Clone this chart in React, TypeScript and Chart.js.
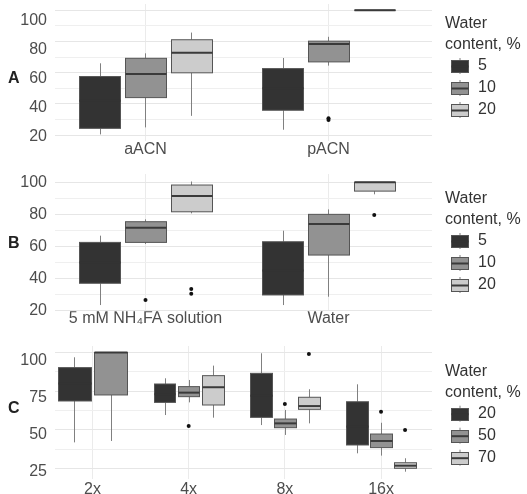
import React, { useEffect, useRef } from 'react';
import { Chart, registerables } from 'chart.js';

Chart.register(...registerables);

const FONT = "'Liberation Sans', Arial, Helvetica, sans-serif";

// ---------- Panel A ----------
const catsA = ['aACN', 'pACN'];
const groupsA = ['5', '10', '20'];
// each entry: [lower whisker, Q1, median, Q3, upper whisker] per category
const statsA5 = [[20.4, 24.3, 42, 57.5, 66], [23.4, 35.9, 50, 62.6, 69.4]];
const statsA10 = [[24.9, 44, 59.2, 69.2, 72.4], [64.5, 66.9, 78.3, 80.2, 83]];
const statsA20 = [[32.3, 59.9, 72.8, 81.1, 85.7], [100, 100, 100, 100, 100]];
const outA5: number[][] = [[], []];
const outA10: number[][] = [[], [29.7, 30.7]];
const outA20: number[][] = [[], []];
const gridTicksA = [20, 30, 40, 50, 60, 70, 80, 90, 100];
const labelTicksA = [20, 40, 60, 80, 100];

// ---------- Panel B ----------
const catsB = ['5 mM NH\u2084FA solution', 'Water'];
const groupsB = ['5', '10', '20'];
const statsB5 = [[23.4, 37, 50, 62.5, 66.7], [23.4, 29.7, 45, 62.9, 69.8]];
const statsB10 = [[61.5, 62.5, 71.7, 75.4, 76.9], [28.6, 54.6, 74, 80, 83.1]];
const statsB20 = [[80.6, 81.6, 91.4, 98.3, 100.5], [92.5, 94.5, 100, 100, 100]];
const outB5: number[][] = [[], []];
const outB10: number[][] = [[26.5], []];
const outB20: number[][] = [[33.4, 30.5], [79.6]];
const gridTicksB = [20, 30, 40, 50, 60, 70, 80, 90, 100];
const labelTicksB = [20, 40, 60, 80, 100];

// ---------- Panel C ----------
const catsC = ['2x', '4x', '8x', '16x'];
const groupsC = ['20', '50', '70'];
const statsC20 = [[41.8, 68.6, 80, 90.2, 96.9], [59.5, 67.7, 73, 79.6, 83.3], [53, 58, 72, 86.5, 99.5], [34.7, 40.1, 52, 68.1, 79.4]];
const statsC50 = [[42.7, 72.5, 100, 100, 100], [67.7, 71.4, 74, 77.9, 82.2], [46.6, 51.3, 54.1, 56.9, 62.8], [33.2, 38.4, 42.7, 47.2, 54.5]];
const statsC70 = [null, [57.8, 66, 77.5, 85, 91.5], [54.1, 63.2, 65.3, 71, 76.2], [22.8, 25, 26.7, 28.6, 31.5]];
const outC20: number[][] = [[], [], [], []];
const outC50: number[][] = [[], [52.4], [66.6], [61.7]];
const outC70: number[][] = [[], [], [99], [49.8]];
const gridTicksC = [25, 37.5, 50, 62.5, 75, 87.5, 100];
const labelTicksC = [25, 50, 75, 100];

const FILLS = ['#333333', '#929292', '#cccccc'];
const MEDIANS = ['#333333', '#3a3a3a', '#3a3a3a'];

type Stat = number[] | null;

interface PanelProps {
  tag: string;
  cats: string[];
  groups: string[];
  stats: Stat[][];
  outliers: number[][][];
  gridTicks: number[];
  labelTicks: number[];
  height: number;
  top: number;
  bottom: number;
  yRange: [number, number];
  labelRange: [number, number];
  xRange: [number, number];
  xPad: number;
  legendTop: number;
}

function dodge(stats: Stat[][], ci: number) {
  const present: number[] = [];
  stats.forEach((s, gi) => { if (s[ci]) present.push(gi); });
  const n = present.length;
  const slot = 0.75 / n;
  return present.map((g, k) => ({ g, center: ci + (k - (n - 1) / 2) * slot, width: 0.9 * slot }));
}

function Panel(p: PanelProps) {
  const ref = useRef<HTMLCanvasElement | null>(null);
  useEffect(() => {
    if (!ref.current) return;
    const points: { x: number; y: number }[] = [];
    p.cats.forEach((_, ci) => {
      dodge(p.stats, ci).forEach(({ g, center }) => {
        (p.outliers[g][ci] || []).forEach((v) => points.push({ x: center, y: v }));
      });
    });

    const boxPlugin = {
      id: 'boxes',
      beforeDatasetsDraw(chart: any) {
        const ctx = chart.ctx as CanvasRenderingContext2D;
        const xs = chart.scales.x;
        const ys = chart.scales.y;
        ctx.save();
        p.cats.forEach((_, ci) => {
          dodge(p.stats, ci).forEach(({ g, center, width }) => {
            const s = p.stats[g][ci] as number[];
            const [lo, q1, med, q3, hi] = s;
            const cx = Math.round(xs.getPixelForValue(center)) + 0.5;
            const l = Math.round(xs.getPixelForValue(center - width / 2)) + 0.5;
            const r = Math.round(xs.getPixelForValue(center + width / 2)) + 0.5;
            const yq1 = ys.getPixelForValue(q1);
            const yq3 = ys.getPixelForValue(q3);
            // whiskers
            ctx.strokeStyle = '#808080';
            ctx.lineWidth = 1;
            ctx.beginPath();
            ctx.moveTo(cx, ys.getPixelForValue(hi));
            ctx.lineTo(cx, yq3);
            ctx.moveTo(cx, yq1);
            ctx.lineTo(cx, ys.getPixelForValue(lo));
            ctx.stroke();
            // box
            ctx.fillStyle = FILLS[g];
            ctx.fillRect(l, yq3, r - l, yq1 - yq3);
            ctx.strokeStyle = '#555555';
            ctx.strokeRect(l, yq3, r - l, yq1 - yq3);
            // median
            ctx.strokeStyle = MEDIANS[g];
            ctx.lineWidth = 2;
            ctx.beginPath();
            const ym = ys.getPixelForValue(med);
            ctx.moveTo(l, ym);
            ctx.lineTo(r, ym);
            ctx.stroke();
          });
        });
        ctx.restore();
      },
      afterDraw(chart: any) {
        const ctx = chart.ctx as CanvasRenderingContext2D;
        ctx.save();
        // panel tag
        ctx.fillStyle = '#222222';
        ctx.font = `bold 16px ${FONT}`;
        ctx.textBaseline = 'middle';
        ctx.textAlign = 'left';
        ctx.fillText(p.tag, 8, 79);
        // legend
        ctx.font = `16px ${FONT}`;
        ctx.fillStyle = '#333333';
        const lt = p.legendTop;
        ctx.fillText('Water', 445, lt);
        ctx.fillText('content, %', 445, lt + 20.5);
        p.groups.forEach((gName, gi) => {
          const cy = lt + 42 + gi * 22;
          const kx = 451.5;
          const kw = 17;
          const kc = kx + kw / 2;
          ctx.strokeStyle = '#808080';
          ctx.lineWidth = 1;
          ctx.beginPath();
          ctx.moveTo(kc, cy - 8);
          ctx.lineTo(kc, cy + 8);
          ctx.stroke();
          ctx.fillStyle = FILLS[gi];
          ctx.fillRect(kx, Math.round(cy - 6) + 0.5, kw, 12);
          ctx.strokeStyle = '#555555';
          ctx.strokeRect(kx, Math.round(cy - 6) + 0.5, kw, 12);
          ctx.strokeStyle = MEDIANS[gi];
          ctx.lineWidth = 2;
          ctx.beginPath();
          ctx.moveTo(kx, cy + 0.5);
          ctx.lineTo(kx + kw, cy + 0.5);
          ctx.stroke();
          ctx.fillStyle = '#333333';
          ctx.fillText(gName, 478, cy);
        });
        ctx.restore();
      },
    };

    const H = p.height;
    const chart = new Chart(ref.current, {
      type: 'scatter',
      data: {
        datasets: [
          {
            data: points,
            pointRadius: 2,
            pointBackgroundColor: '#111111',
            pointBorderWidth: 0,
            xAxisID: 'x',
            yAxisID: 'y',
          },
        ],
      },
      options: {
        animation: false,
        responsive: false,
        events: [],
        layout: { padding: { top: p.top, right: 527 - 432, left: 0, bottom: 0 } },
        plugins: { legend: { display: false }, tooltip: { enabled: false }, title: { display: false } },
        scales: {
          x: {
            type: 'linear',
            position: 'bottom',
            min: p.xRange[0],
            max: p.xRange[1],
            afterBuildTicks: (s: any) => { s.ticks = p.cats.map((_, i) => ({ value: i })); },
            ticks: {
              autoSkip: false,
              maxRotation: 0,
              minRotation: 0,
              padding: p.xPad,
              color: '#4d4d4d',
              font: { family: FONT, size: 16 },
              callback: (_v: any, i: number) => p.cats[i],
            },
            grid: { color: '#ebebeb', drawTicks: false, lineWidth: 1 },
            border: { display: false },
            afterFit: (s: any) => { s.height = H - p.bottom; s.paddingLeft = 0; s.paddingRight = 0; },
          },
          y: {
            type: 'linear',
            position: 'left',
            min: p.yRange[0],
            max: p.yRange[1],
            afterBuildTicks: (s: any) => { s.ticks = p.gridTicks.map((v) => ({ value: v })); },
            ticks: { display: false },
            grid: {
              drawTicks: false,
              color: (c: any) => (p.labelTicks.includes(c.tick?.value) ? '#e6e6e6' : '#efefef'),
            },
            border: { display: false },
            afterFit: (s: any) => { s.width = 0; s.paddingTop = 0; s.paddingBottom = 0; },
          },
          yl: {
            type: 'linear',
            position: 'left',
            min: p.labelRange[0],
            max: p.labelRange[1],
            afterBuildTicks: (s: any) => { s.ticks = p.labelTicks.map((v) => ({ value: v })); },
            ticks: { padding: 8, color: '#4d4d4d', font: { family: FONT, size: 16 } },
            grid: { display: false, drawTicks: false },
            border: { display: false },
            afterFit: (s: any) => { s.width = 55; s.paddingTop = 0; s.paddingBottom = 0; },
          },
        },
      } as any,
      plugins: [boxPlugin],
    });
    return () => chart.destroy();
  }, []);
  return (
    <canvas
      ref={ref}
      width={527}
      height={p.height}
      style={{ display: 'block', width: 527, height: p.height }}
    />
  );
}

export default function App() {
  return (
    <div style={{ position: 'absolute', left: 0, top: 0, width: 527, height: 494, background: '#ffffff' }}>
      <Panel
        tag="A"
        cats={catsA}
        groups={groupsA}
        stats={[statsA5, statsA10, statsA20]}
        outliers={[outA5, outA10, outA20]}
        gridTicks={gridTicksA}
        labelTicks={labelTicksA}
        height={165}
        top={3}
        bottom={141}
        yRange={[16.18, 104.02]}
        labelRange={[17.05, 111.64]}
        xRange={[-0.4945, 1.5656]}
        xPad={-1.5}
        legendTop={24}
      />
      <Panel
        tag="B"
        cats={catsB}
        groups={groupsB}
        stats={[statsB5, statsB10, statsB20]}
        outliers={[outB5, outB10, outB20]}
        gridTicks={gridTicksB}
        labelTicks={labelTicksB}
        height={165}
        top={9}
        bottom={146.3}
        yRange={[19.5, 105.18]}
        labelRange={[19.5, 105.18]}
        xRange={[-0.4945, 1.5656]}
        xPad={-2}
        legendTop={34}
      />
      <Panel
        tag="C"
        cats={catsC}
        groups={groupsC}
        stats={[statsC20, statsC50, statsC70]}
        outliers={[outC20, outC50, outC70]}
        gridTicks={gridTicksC}
        labelTicks={labelTicksC}
        height={164}
        top={16}
        bottom={149}
        yRange={[18.07, 104.21]}
        labelRange={[20.3, 109.6]}
        xRange={[-0.3899, 3.53]}
        xPad={1}
        legendTop={41.7}
      />
    </div>
  );
}
